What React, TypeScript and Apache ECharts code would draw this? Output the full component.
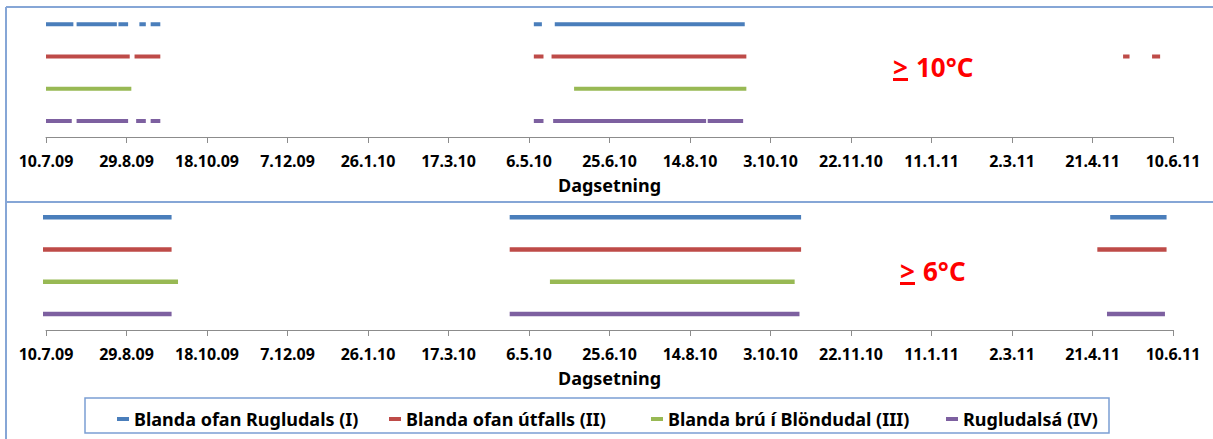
import React, { useEffect, useRef } from "react";
import * as echarts from "echarts";

const seriesNames = [
  "Blanda ofan Rugludals (I)",
  "Blanda ofan útfalls (II)",
  "Blanda brú í Blöndudal (III)",
  "Rugludalsá (IV)",
];
const seriesColors = ["#4a7ebb", "#be4b48", "#98b954", "#7d60a0"];
const rowValues = [4, 3, 2, 1];

const tickLabels = [
  "10.7.09", "29.8.09", "18.10.09", "7.12.09", "26.1.10", "17.3.10", "6.5.10",
  "25.6.10", "14.8.10", "3.10.10", "22.11.10", "11.1.11", "2.3.11", "21.4.11", "10.6.11",
];
const startDate = "2009-07-10";

// Periods with temperature >= 10°C
const blue10 = [
  ["2009-07-10", "2009-07-27"], ["2009-07-29", "2009-08-23"], ["2009-08-24", "2009-08-30"],
  ["2009-09-06", "2009-09-10"], ["2009-09-13", "2009-09-19"], ["2010-05-09", "2010-05-14"],
  ["2010-05-22", "2010-09-17"],
];
const red10 = [
  ["2009-07-10", "2009-08-31"], ["2009-09-03", "2009-09-19"], ["2010-05-09", "2010-05-15"],
  ["2010-05-20", "2010-09-18"], ["2011-05-10", "2011-05-14"], ["2011-05-28", "2011-06-02"],
];
const green10 = [["2009-07-10", "2009-09-01"], ["2010-06-03", "2010-09-18"]];
const purple10 = [
  ["2009-07-10", "2009-07-26"], ["2009-07-29", "2009-08-30"], ["2009-09-04", "2009-09-10"],
  ["2009-09-13", "2009-09-19"], ["2010-05-09", "2010-05-15"], ["2010-05-21", "2010-08-24"],
  ["2010-08-25", "2010-09-16"],
];

// Periods with temperature >= 6°C
const blue6 = [["2009-07-06", "2009-09-26"], ["2010-04-24", "2010-10-22"], ["2011-05-02", "2011-06-06"]];
const red6 = [["2009-07-06", "2009-09-26"], ["2010-04-24", "2010-10-22"], ["2011-04-24", "2011-06-06"]];
const green6 = [["2009-07-06", "2009-09-30"], ["2010-05-19", "2010-10-18"]];
const purple6 = [["2009-07-06", "2009-09-26"], ["2010-04-24", "2010-10-21"], ["2011-04-30", "2011-06-05"]];

const panel10 = [blue10, red10, green10, purple10];
const panel6 = [blue6, red6, green6, purple6];

const FONT = "'Noto Sans', 'DejaVu Sans', sans-serif";
const BORDER = "#86a6d6";

function dayOf(s: string): number {
  const [y, m, d] = s.split("-").map(Number);
  const [y0, m0, d0] = startDate.split("-").map(Number);
  return Math.round((Date.UTC(y, m - 1, d) - Date.UTC(y0, m0 - 1, d0)) / 86400000);
}

function buildData(segs: string[][], row: number) {
  const out: any[] = [];
  segs.forEach(([s, e]) => {
    out.push([dayOf(s), row]);
    out.push([dayOf(e), row]);
    out.push([dayOf(e), "-"]);
  });
  return out;
}

export default function App() {
  const ref = useRef<HTMLDivElement>(null);
  useEffect(() => {
    if (!ref.current) return;
    const chart = echarts.init(ref.current, undefined, { renderer: "svg" });

    const xAxisBase = (gridIndex: number) => ({
      type: "value",
      gridIndex,
      min: 0,
      max: 700,
      interval: 50,
      name: "Dagsetning",
      nameLocation: "middle",
      nameGap: 39,
      nameTextStyle: { fontFamily: FONT, fontWeight: "bold", fontSize: 18, color: "#000" },
      axisLine: { show: true, lineStyle: { color: "#8c8c8c", width: 1 } },
      axisTick: { show: true, length: 6, lineStyle: { color: "#8c8c8c" } },
      axisLabel: {
        margin: 16,
        fontFamily: FONT,
        fontWeight: "bold",
        fontSize: 16,
        color: "#000",
        formatter: (v: number) => tickLabels[Math.round(v / 50)] ?? "",
      },
      splitLine: { show: false },
    });
    const yAxisBase = (gridIndex: number) => ({
      type: "value",
      gridIndex,
      min: 0.5,
      max: 4.5,
      show: false,
      splitLine: { show: false },
    });

    const series: any[] = [];
    [panel10, panel6].forEach((panel, pi) => {
      panel.forEach((segs, i) => {
        series.push({
          type: "line",
          name: seriesNames[i],
          xAxisIndex: pi,
          yAxisIndex: pi,
          data: buildData(segs, rowValues[i]),
          showSymbol: false,
          symbol: "none",
          connectNulls: false,
          clip: false,
          color: seriesColors[i],
          lineStyle: { color: seriesColors[i], width: pi === 0 ? 4 : 4.5, cap: "butt" },
        });
      });
    });

    const annotation = (x: number, yMid: number, label: string) => [
      {
        type: "text",
        x,
        y: yMid,
        style: { text: ">", fill: "#ff0000", font: `bold 26px ${FONT}`, textVerticalAlign: "middle" },
      },
      { type: "rect", shape: { x, y: yMid + 11, width: 15, height: 3 }, style: { fill: "#ff0000" } },
      {
        type: "text",
        x: x + 23,
        y: yMid,
        style: { text: label, fill: "#ff0000", font: `bold 26px ${FONT}`, textVerticalAlign: "middle" },
      },
    ];

    const legendLefts = [112, 384, 646, 941];
    const legends = seriesNames.map((n, i) => ({
      data: [n],
      left: legendLefts[i],
      top: 405,
      itemWidth: 12,
      itemHeight: 4,
      icon: "rect",
      textStyle: { fontFamily: FONT, fontWeight: "bold", fontSize: 18, color: "#000" },
    }));

    chart.setOption({
      animation: false,
      backgroundColor: "#ffffff",
      grid: [
        { left: 46, right: 40, top: 8, height: 129, containLabel: false },
        { left: 46, right: 40, top: 201, height: 129, containLabel: false },
      ],
      xAxis: [xAxisBase(0), xAxisBase(1)],
      yAxis: [yAxisBase(0), yAxisBase(1)],
      legend: legends,
      graphic: [
        { type: "line", shape: { x1: 6, y1: 7, x2: 1213, y2: 7 }, style: { stroke: BORDER, lineWidth: 2 } },
        { type: "line", shape: { x1: 6, y1: 202, x2: 1213, y2: 202 }, style: { stroke: BORDER, lineWidth: 2 } },
        { type: "line", shape: { x1: 6, y1: 7, x2: 6, y2: 439 }, style: { stroke: BORDER, lineWidth: 2 } },
        {
          type: "rect",
          shape: { x: 85, y: 398, width: 1024, height: 35 },
          style: { fill: "none", stroke: "#7b9fd4", lineWidth: 1.5 },
        },
        ...annotation(893, 67, "10°C"),
        ...annotation(900, 271, "6°C"),
      ],
      series,
    });
    return () => chart.dispose();
  }, []);
  return (
    <div
      ref={ref}
      style={{ position: "fixed", left: 0, top: 0, width: 1213, height: 439, background: "#fff" }}
    />
  );
}
